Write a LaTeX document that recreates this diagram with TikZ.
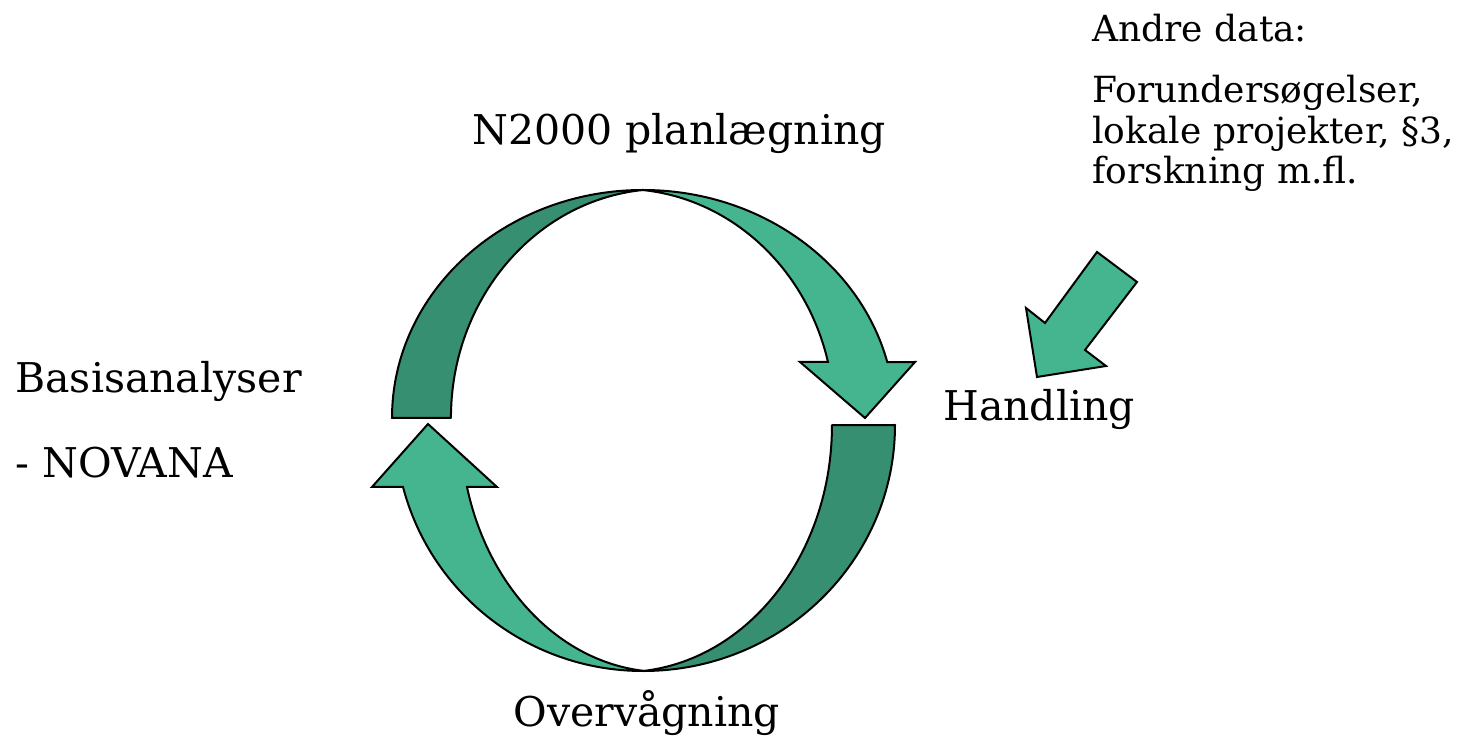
\documentclass[tikz,border=0pt]{standalone}
\usepackage{fontspec}
\setmainfont{DejaVu Serif}
\usepackage{tikz}
\usetikzlibrary{positioning}

\definecolor{darkgreen}{RGB}{54,143,112}
\definecolor{lightgreen}{RGB}{68,181,143}

\begin{document}
\begin{tikzpicture}[x=0.5pt,y=0.5pt,
  darkband/.style={draw=black,line width=1pt,fill=darkgreen,line join=round},
  lightband/.style={draw=black,line width=1pt,fill=lightgreen,line join=miter},
  lbl/.style={anchor=base west,inner sep=0pt,font=\fontsize{20.5pt}{20.25pt}\selectfont},
  smalllbl/.style={lbl,font=\fontsize{18pt}{20.25pt}\selectfont}]
 \useasboundingbox (0,0) rectangle (1480,745);
 % top half of the cycle
 \draw[darkband](392,327) arc[start angle=180,end angle=90,x radius=251,y radius=228]
   arc[start angle=95.4,end angle=180,x radius=212,y radius=229]--cycle;
 \draw[lightband](643,555) arc[start angle=90,end angle=14.2,x radius=252,y radius=228]
   --(915,383)--(865,327)--(800,383)--(828,383)
   arc[start angle=14.15,end angle=84.6,x radius=212,y radius=229]--cycle;
 % bottom half of the cycle
 \draw[darkband](895,320) arc[start angle=0,end angle=-90,x radius=252,y radius=246]
   arc[start angle=-84.5,end angle=0,x radius=209,y radius=247]--cycle;
 \draw[lightband](643,74) arc[start angle=-90,end angle=-165.4,x radius=248,y radius=246]
   --(372,258)--(428,321)--(497,258)--(467,258)
   arc[start angle=-165.46,end angle=-95.67,x radius=202.5,y radius=247]--cycle;
 % arrow from the other data
 \draw[lightband](1097,493)--(1137,463)--(1085,395)--(1106,379)--(1037,368)--(1026,437)--(1045,422)--cycle;
 % labels
 \node[lbl] (plan) at (472,600) {N2000 planlægning};
 \node[lbl] (basis) at (15,352) {Basisanalyser};
 \node[lbl] (novana) at (15,267) {- NOVANA};
 \node[lbl] (handling) at (943,324) {Handling};
 \node[lbl] (overv) at (513,18) {Overvågning};
 \node[smalllbl] (andre) at (1092,703) {Andre data:};
 \node[smalllbl,anchor=north west,align=left] (forund) at (1092,670)
   {Forundersøgelser,\\lokale projekter, §3,\\forskning m.fl.};
\end{tikzpicture}
\end{document}
